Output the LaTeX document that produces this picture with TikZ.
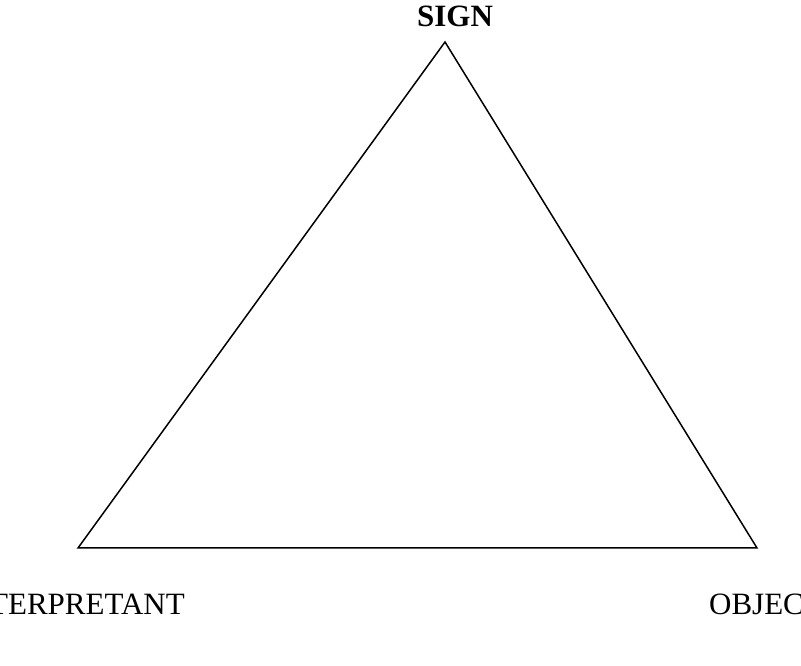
\documentclass[tikz,border=0pt]{standalone}
\usepackage{fontspec}
\setmainfont{Liberation Serif}
\usetikzlibrary{calc}

\begin{document}
\begin{tikzpicture}[x=1bp, y=1bp, every node/.append style={inner sep=0pt, font=\fontsize{31bp}{37bp}\selectfont}]
  \clip (0, 0) rectangle (801, 666);
  \coordinate (S) at (445, 624);
  \coordinate (I) at (78, 118);
  \coordinate (O) at (757, 118);
  \draw[line width=1.5bp] (S) -- (I) -- (O) -- cycle;
  \node[anchor=base] (sign) at (455, 639) {\bfseries SIGN};
  \node[anchor=base] (interp) at (70.6, 51) {INTERPRETANT};
  \node[anchor=base] (object) at (766, 51) {OBJECT};
\end{tikzpicture}
\end{document}
